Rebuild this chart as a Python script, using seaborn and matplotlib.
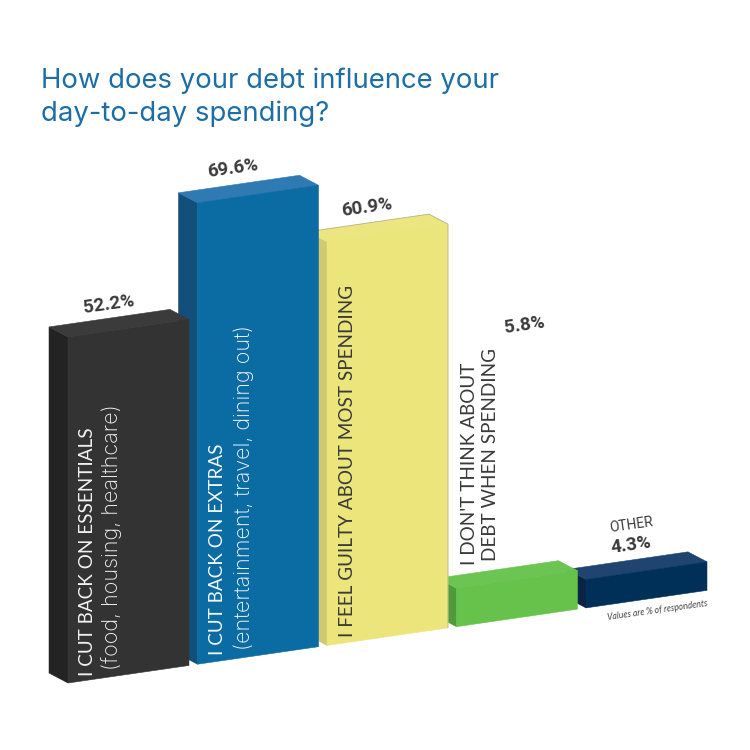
import matplotlib.pyplot as plt
import matplotlib.transforms as mtrans
from matplotlib.patches import Polygon
import pandas as pd
import seaborn as sns

categories = ["essentials", "extras", "guilty", "dont_think", "other"]
values = [52.2, 69.6, 60.9, 5.8, 4.3]
value_labels = ["52.2%", "69.6%", "60.9%", "5.8%", "4.3%"]
front_colors = ["#333333", "#0b6ba3", "#ebe57b", "#66c24a", "#003057"]
top_colors = ["#3b3b3b", "#2f7ab2", "#ece680", "#6cc552", "#1f4470"]
side_colors = ["#232323", "#124f7a", "#cfca72", "#4f9a3a", "#0b2444"]

sns.set_theme(style="white")
plt.rcParams['font.family'] = ['Inter', 'DejaVu Sans']

PX_CAT = 129.5
PX_VAL = 6.63
BAR_W = 0.934
SLOPE = 0.145
DEPTH_X = -19 / PX_CAT
DEPTH_Y = 1.92
left0 = -BAR_W / 2
shear_s = SLOPE * PX_CAT / PX_VAL


def px(x, y):
    return x / 750, 1 - y / 750


fig = plt.figure(figsize=(7.5, 7.5), dpi=100)
ax = fig.add_axes([0, 0, 1, 1])
df = pd.DataFrame({"cat": categories, "val": values})
sns.barplot(data=df, x="cat", y="val", hue="cat", palette=front_colors,
            width=BAR_W, legend=False, saturation=1, ax=ax)
ax.set_xlim(-128.5 / PX_CAT, (750 - 128.5) / PX_CAT)
ax.set_ylim(-67 / PX_VAL, 683 / PX_VAL)
ax.axis("off")

# skew the flat bars, then add the side and top faces
shear = mtrans.Affine2D.from_values(1, shear_s, 0, 1, 0, -left0 * shear_s) + ax.transData
for i, cont in enumerate(ax.containers):
    bar = cont[0]
    z = 10 - i
    x0, x1 = bar.get_x(), bar.get_x() + bar.get_width()
    h = bar.get_height()
    bar.set_transform(shear)
    bar.set_zorder(z + 0.2)
    bar.set_edgecolor(front_colors[i])
    bar.set_linewidth(0.4)
    side = [(x0, 0), (x0, h), (x0 + DEPTH_X, h + DEPTH_Y), (x0 + DEPTH_X, DEPTH_Y)]
    top = [(x0, h), (x1, h), (x1 + DEPTH_X, h + DEPTH_Y), (x0 + DEPTH_X, h + DEPTH_Y)]
    ax.add_patch(Polygon(side, closed=True, fc=side_colors[i], ec=side_colors[i], lw=0.4, transform=shear, zorder=z))
    ax.add_patch(Polygon(top, closed=True, fc=top_colors[i], ec=top_colors[i], lw=0.4, transform=shear, zorder=z + 0.1))
    if categories[i] == "guilty":
        # pale bar needs a thin outline against the white page
        ax.plot([x0 + DEPTH_X, x1 + DEPTH_X, x1, x1], [h + DEPTH_Y, h + DEPTH_Y, h, 0],
                color="#b8b48e", lw=0.6, transform=shear, zorder=z + 0.3)

# title
fig.text(*px(41, 88), "How does your debt influence your", fontsize=19.8,
         color="#1c6ea4", va="baseline")
fig.text(*px(41, 121), "day-to-day spending?", fontsize=19.8,
         color="#1c6ea4", va="baseline")

# value labels
value_pos = [(109, 304), (233, 168), (367, 207), (524, 325), (631, 545)]
for lab, pos in zip(value_labels, value_pos):
    fig.text(*px(*pos), lab, family="Roboto", fontweight="bold", fontsize=13.5, color="#3a3a3a",
             rotation=8, rotation_mode="anchor", ha="center", va="center", zorder=20)
fig.text(*px(631, 525), "OTHER", family="Roboto", fontsize=10, color="#3a3a3a", rotation=8,
         rotation_mode="anchor", ha="center", va="center", zorder=20)

# text running up the bars, placed by baseline
bar_text = [
    ("I CUT BACK ON ESSENTIALS", 93, 676, "#f2f2f2", "Lato", 13.6),
    ("(food, housing, healthcare)", 118, 670, "#f2f2f2", "Inter", 15.5),
    ("I CUT BACK ON EXTRAS", 223, 655, "#f2f7fa", "Lato", 13.6),
    ("(entertainment, travel, dining out)", 250, 650, "#f2f7fa", "Inter", 15.5),
    ("I FEEL GUILTY ABOUT MOST SPENDING", 353, 637, "#3a3a3a", "Lato", 13.6),
    ("I DON'T THINK ABOUT", 475, 565, "#3a3a3a", "Lato", 13.6),
    ("DEBT WHEN SPENDING", 496, 561, "#3a3a3a", "Lato", 13.6),
]
for txt, x, y, col, fam, fs in bar_text:
    fig.text(*px(x, y), txt, family=fam, fontsize=fs, fontweight="light" if fam == "Inter" else "normal",
             color=col, rotation=90, rotation_mode="anchor", ha="left", va="baseline", zorder=20)

fig.text(*px(658, 610), "Values are % of respondents", family="Lato", fontsize=6.2, style="italic", color="#444444",
         rotation=8, rotation_mode="anchor", ha="center", va="center", zorder=20)

fig.savefig("out.png", dpi=100, facecolor="white")
